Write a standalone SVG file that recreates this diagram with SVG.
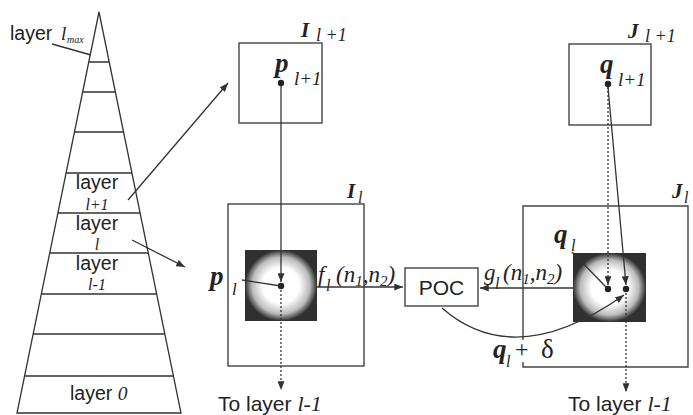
<svg xmlns="http://www.w3.org/2000/svg" width="693" height="415" viewBox="0 0 693 415">
<defs>
<style>
.ln{stroke:#333;stroke-width:1.3;fill:none}
.dt{stroke:#333;stroke-width:1.3;fill:none;stroke-dasharray:2,2}
.box{stroke:#444;stroke-width:1.4;fill:none}
.sans{font-family:"Liberation Sans",Arial,sans-serif;fill:#222}
.it{font-family:"Liberation Serif","Times New Roman",serif;font-style:italic;fill:#222}
.bi{font-family:"Liberation Serif","Times New Roman",serif;font-style:italic;font-weight:bold;fill:#222}
.rm{font-family:"Liberation Serif","Times New Roman",serif;fill:#222}
.dot{fill:#222}
</style>
<marker id="ah" viewBox="0 0 10 8" refX="10" refY="4" markerWidth="9" markerHeight="7" markerUnits="userSpaceOnUse" orient="auto">
<path d="M0,0 L10,4 L0,8 z" fill="#333"/>
</marker>
<radialGradient id="blob" cx="0.5" cy="0.5" r="0.5">
<stop offset="0" stop-color="#fff"/>
<stop offset="0.5" stop-color="#fff"/>
<stop offset="0.8" stop-color="#bbb"/>
<stop offset="1" stop-color="#303030"/>
</radialGradient>
</defs>
<rect width="693" height="415" fill="#fff"/>

<g id="pyramid">
<polygon points="99,12 17,413 181,413" class="ln"/>
<path class="ln" d="M88.8,62H109.2M82.6,92H115.4M74.5,132H123.5M66.1,173H131.9M57.9,213H140.1M49.7,253H148.3M41.3,294H156.7M33.2,334H164.8M24.6,376H173.4"/>
<text class="sans" x="10" y="40" font-size="19.5">layer</text>
<text class="it" x="61" y="40" font-size="19">l</text>
<text class="it" x="67" y="43" font-size="10">max</text>
<line class="ln" x1="52" y1="44" x2="91" y2="55"/>
<text class="sans" x="97" y="189" font-size="19.5" text-anchor="middle">layer</text>
<text class="it" x="97" y="210" font-size="16" text-anchor="middle">l+1</text>
<text class="sans" x="97" y="230" font-size="19.5" text-anchor="middle">layer</text>
<text class="it" x="97" y="250" font-size="16" text-anchor="middle">l</text>
<text class="sans" x="97" y="270" font-size="19.5" text-anchor="middle">layer</text>
<text class="it" x="97" y="290" font-size="16" text-anchor="middle">l-1</text>
<text class="sans" x="70" y="400" font-size="19.5">layer <tspan class="it">0</tspan></text>
</g>

<g id="I_l1">
<rect class="box" x="239" y="43" width="83" height="80"/>
<text class="bi" x="301" y="37" font-size="21">I</text>
<text class="it" x="316" y="41" font-size="18">l +1</text>
<text class="bi" x="275" y="72" font-size="27">p</text>
<text class="it" x="294" y="85" font-size="19">l+1</text>
<circle class="dot" cx="281" cy="83" r="3.2"/>
</g>

<g id="I_l">
<rect class="box" x="228" y="204" width="136" height="162"/>
<text class="bi" x="347" y="198" font-size="21">I</text>
<text class="it" x="358" y="203" font-size="16">l</text>
<rect x="245" y="250" width="72" height="71" fill="url(#blob)"/>
<circle class="dot" cx="281" cy="286" r="3.2"/>
<text class="bi" x="210" y="285" font-size="27">p</text>
<text class="it" x="232" y="295" font-size="17">l</text>
<line class="ln" x1="242" y1="280" x2="281" y2="286"/>
<text class="it" x="318" y="282" font-size="23">f</text>
<text class="it" x="326" y="291" font-size="16">l</text>
<text class="it" x="336" y="282" font-size="23">(n<tspan class="rm" font-size="15" dy="4">1</tspan><tspan dy="-4">,n</tspan><tspan class="rm" font-size="15" dy="4">2</tspan><tspan dy="-4">)</tspan></text>
</g>

<g id="POC">
<rect class="box" x="405" y="268" width="73" height="38"/>
<text class="sans" x="441.5" y="295" font-size="21" text-anchor="middle">POC</text>
</g>

<g id="J_l1">
<rect class="box" x="569" y="44" width="82" height="81"/>
<text class="bi" x="628" y="38" font-size="21">J</text>
<text class="it" x="645" y="42" font-size="18">l +1</text>
<text class="bi" x="600" y="73" font-size="27">q</text>
<text class="it" x="618" y="86" font-size="19">l+1</text>
<circle class="dot" cx="608" cy="84" r="3.2"/>
</g>

<g id="J_l">
<path class="box" d="M523,340V206H688V367H523V362"/>
<text class="bi" x="672" y="198" font-size="21">J</text>
<text class="it" x="684" y="203" font-size="16">l</text>
<rect x="573" y="253" width="73" height="69" fill="url(#blob)"/>
<circle class="dot" cx="608" cy="289" r="3.2"/>
<circle class="dot" cx="626" cy="289" r="3.2"/>
<text class="bi" x="554" y="243" font-size="27">q</text>
<text class="it" x="571" y="251" font-size="16">l</text>
<line class="ln" x1="572" y1="252" x2="606" y2="287"/>
<text class="it" x="484" y="280" font-size="23">g</text>
<text class="it" x="495" y="289" font-size="16">l</text>
<text class="it" x="503" y="280" font-size="23">(n<tspan class="rm" font-size="15" dy="4">1</tspan><tspan dy="-4">,n</tspan><tspan class="rm" font-size="15" dy="4">2</tspan><tspan dy="-4">)</tspan></text>
<text class="bi" x="493" y="358" font-size="27">q</text>
<text class="it" x="506" y="367" font-size="16">l</text>
<text class="rm" x="515" y="357" font-size="24">+</text>
<text class="rm" x="541" y="358" font-size="27">δ</text>
</g>

<g id="labels">
<text class="sans" x="218" y="411" font-size="21">To layer <tspan class="it" font-size="22">l-1</tspan></text>
<text class="sans" x="568" y="411" font-size="21">To layer <tspan class="it" font-size="22">l-1</tspan></text>
</g>

<g id="connectors">
<line class="ln" x1="128" y1="200" x2="228" y2="83" marker-end="url(#ah)"/>
<line class="ln" x1="132" y1="240" x2="185" y2="267" marker-end="url(#ah)"/>
<line class="ln" x1="281" y1="86" x2="281" y2="282" marker-end="url(#ah)"/>
<line class="dt" x1="281" y1="290" x2="281" y2="390" marker-end="url(#ah)"/>
<line class="ln" x1="317" y1="287" x2="403" y2="287" marker-end="url(#ah)"/>
<line class="ln" x1="573" y1="288" x2="480" y2="288" marker-end="url(#ah)"/>
<line class="dt" x1="608" y1="87" x2="608" y2="285" marker-end="url(#ah)"/>
<line class="ln" x1="608" y1="87" x2="626" y2="285" marker-end="url(#ah)"/>
<line class="dt" x1="626" y1="293" x2="626" y2="392" marker-end="url(#ah)"/>
<path class="ln" d="M442,308 Q515,372 624,295" marker-end="url(#ah)"/>
</g>
</svg>
